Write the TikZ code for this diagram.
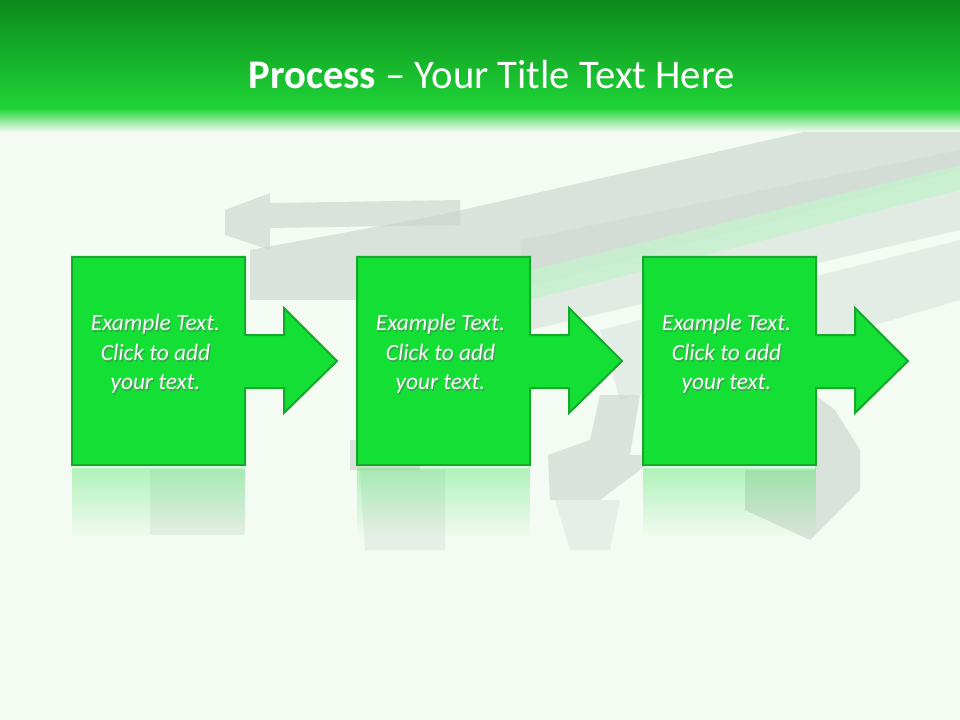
\documentclass[tikz,border=0pt]{standalone}
\usepackage{fontspec}
\setmainfont{Carlito}
\usetikzlibrary{fadings,shadows,calc}
\definecolor{bg}{HTML}{F4FBF3}
\definecolor{gtop}{HTML}{0B8A1B}
\definecolor{gbot}{HTML}{1FD437}
\definecolor{boxfill}{HTML}{14DF35}
\definecolor{boxdraw}{HTML}{16A82C}
\definecolor{ghost}{HTML}{C9D3CC}
\definecolor{ghostg}{HTML}{C6F0CD}
\tikzset{
 stepshape/.style={fill=boxfill,draw=boxdraw,line width=1.5pt,line join=miter},
 ghostshape/.style={fill=ghost,draw=none,opacity=0.6},
 steptext/.style={text=white,font=\fontsize{17.5}{22}\selectfont\itshape,align=center},
 shadowtext/.style={text=black!60,opacity=0.5,font=\fontsize{17.5}{22}\selectfont\itshape,align=center}
}
\begin{document}
\begin{tikzpicture}[x=0.75pt,y=-0.75pt]
\useasboundingbox (0,0) rectangle (960,720);
\fill[bg] (0,0) rectangle (960,720);
% ghost arrows in background
\fill[ghostshape] (440,215) -- (900,110) -- (960,110) -- (960,170) -- (480,300) -- (250,300) -- (250,250) -- cycle;
\fill[ghost,opacity=0.4] (520,240) -- (960,150) -- (960,230) -- (530,330) -- cycle;
\fill[ghostg,opacity=0.8] (530,270) -- (960,165) -- (960,190) -- (530,300) -- cycle;
\fill[ghost,opacity=0.35] (600,330) -- (960,240) -- (960,300) -- (620,400) -- cycle;
\fill[ghostshape] (225,210) -- (270,193) -- (270,203) -- (460,200) -- (460,225) -- (270,228) -- (270,250) -- (225,235) -- cycle;
\fill[ghostshape] (548,455) -- (590,440) -- (600,395) -- (640,395) -- (630,455) -- (660,455) -- (600,500) -- (550,500) -- cycle;
\fill[ghostshape] (815,395) -- (835,410) -- (860,450) -- (860,490) -- (810,540) -- (745,510) -- (745,470) -- (815,470) -- cycle;
\fill[ghostshape] (350,440) -- (420,440) -- (420,470) -- (350,470) -- cycle;
\fill[ghost,opacity=0.3] (150,470) -- (245,470) -- (245,535) -- (150,535) -- cycle;
\fill[ghost,opacity=0.3] (360,470) -- (445,470) -- (445,550) -- (365,550) -- cycle;
\fill[ghost,opacity=0.3] (555,500) -- (620,500) -- (610,550) -- (570,550) -- cycle;
% header
\shade[top color=gtop,bottom color=gbot] (0,0) rectangle (960,108);
\shade[top color=gbot,bottom color=bg] (0,108) rectangle (960,132);
\node[text=white,font=\fontsize{30.5}{36}\selectfont] (title) at (492,75) {\textbf{Process} – Your Title Text Here};
% reflections
\foreach \x/\n in {72/ra,357/rb,643/rc}{
  \fill[boxfill,path fading=south,opacity=0.3] (\x,468) rectangle ++(173,70);
}
% steps
\foreach \x/\n in {72/a,357/b,643/c}{
  \draw[stepshape] (\x,257) -- ++(173,0) -- ++(0,78) -- ++(39,0) -- ++(0,-27) -- ++(53,53) -- ++(-53,52) -- ++(0,-25) -- ++(-39,0) -- ++(0,77) -- ++(-173,0) -- cycle;
  \node[shadowtext] at ($(\x,354)+(83.5,0)+(1.2,1.8)$) {Example Text.\\Click  to add\\your text.};
  \node[steptext] (t\n) at ($(\x,354)+(83.5,0)$) {Example Text.\\Click  to add\\your text.};
}
\end{tikzpicture}
\end{document}
